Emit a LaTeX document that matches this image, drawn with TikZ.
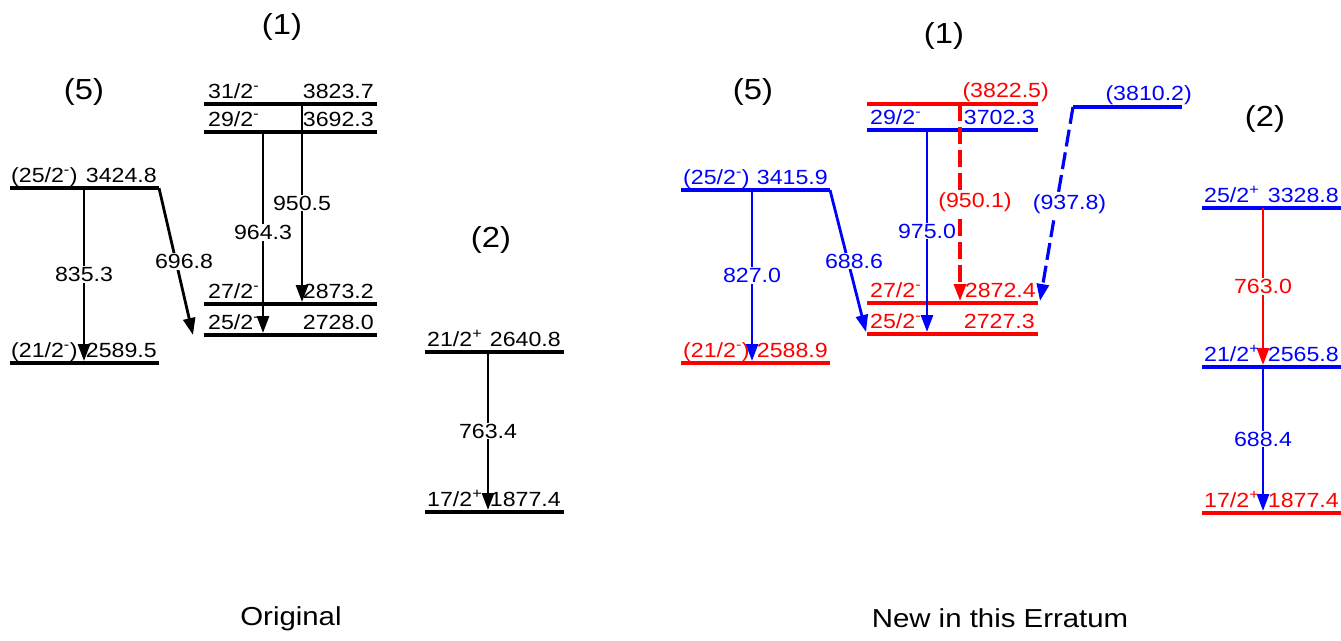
\documentclass[tikz,border=0pt]{standalone}
\usepackage{fontspec}
\setmainfont[FakeStretch=1.13]{Liberation Sans}
\usetikzlibrary{arrows.meta}

\begin{document}
\begin{tikzpicture}[x=1pt,y=1pt,yscale=-1,xscale=1,
  lev/.style={line width=3.8pt},
  gam/.style={line width=2.8pt,-{Triangle[length=17pt,width=12pt]}},
  gamd/.style={gam,line width=3.2pt,dash pattern={on 17pt off 6pt}},
  glab/.style={fill=white,inner sep=1pt,font=\fontsize{20.5}{22}\selectfont},
  txt/.style={inner sep=0pt,font=\fontsize{20.5}{22}\selectfont},
  spin/.style={txt,anchor=base west},
  ener/.style={txt,anchor=base east},
  ttl/.style={inner sep=0pt,font=\fontsize{29}{31}\selectfont},
  figcaption/.style={inner sep=0pt,anchor=base,font=\fontsize{26}{28}\selectfont},
  nb/.style={color={rgb,255:red,0;green,0;blue,255}},
  nr/.style={color={rgb,255:red,255;green,0;blue,0}}]
\useasboundingbox (0,0) rectangle (1341,640);

%%%%%%%%%%%%%%%% Original
%Levels band (1)
\draw [lev] (204,104) coordinate (o3823l) -- (377,104) coordinate (o3823r);
\draw [lev] (204,132) coordinate (o3692l) -- (377,132) coordinate (o3692r);
\draw [lev] (204,304) coordinate (o2873l) -- (377,304) coordinate (o2873r);
\draw [lev] (204,335) coordinate (o2728l) -- (377,335) coordinate (o2728r);
%Levels band (5)
\draw [lev] (10,188) coordinate (o3424l) -- (159,188) coordinate (o3424r);
\draw [lev] (10,363) coordinate (o2589l) -- (159,363) coordinate (o2589r);
%Levels band (2)
\draw [lev] (425,352) coordinate (o2640l) -- (564,352) coordinate (o2640r);
\draw [lev] (425,512) coordinate (o1877l) -- (564,512) coordinate (o1877r);

%Transitions
\coordinate (o964a) at (263,132); \coordinate (o964b) at (263,333);
\draw [gam] (o964a) -- node [glab] {964.3} (o964b);
\coordinate (o950a) at (302,104); \coordinate (o950b) at (302,302);
\draw [gam] (o950a) -- node [glab] {950.5} (o950b);
\coordinate (o835a) at (84,188); \coordinate (o835b) at (84,361);
\draw [gam] (o835a) -- node [glab] {835.3} (o835b);
\coordinate (o697b) at (193,335);
\draw [gam] (o3424r) -- node [glab,xshift=8] {696.8} (o697b);
\coordinate (o763a) at (488,352); \coordinate (o763b) at (488,510);
\draw [gam] (o763a) -- node [glab] {763.4} (o763b);

% Text Node
\node [spin] (o3823s) at (208,98) {31/2\textsuperscript{-}};
\node [ener] (o3823e) at (374,98) {3823.7};
\node [spin] (o3692s) at (208,126) {29/2\textsuperscript{-}};
\node [ener] (o3692e) at (374,126) {3692.3};
\node [spin] (o2873s) at (208,298) {27/2\textsuperscript{-}};
\node [ener] (o2873e) at (374,298) {2873.2};
\node [spin] (o2728s) at (208,329) {25/2\textsuperscript{-}};
\node [ener] (o2728e) at (374,329) {2728.0};
\node [spin] (o3424s) at (11,182) {(25/2\textsuperscript{-})};
\node [ener] (o3424e) at (157,182) {3424.8};
\node [spin] (o2589s) at (11,357) {(21/2\textsuperscript{-})};
\node [ener] (o2589e) at (157,357) {2589.5};
\node [spin] (o2640s) at (427,346) {21/2\textsuperscript{+}};
\node [ener] (o2640e) at (561,346) {2640.8};
\node [spin] (o1877s) at (427,506) {17/2\textsuperscript{+}};
\node [ener] (o1877e) at (561,506) {1877.4};
% Text Node
\node [ttl] (o1) at (282,27) {(1)};
\node [ttl] (o5) at (84,92) {(5)};
\node [ttl] (o2) at (491,240) {(2)};
\node [figcaption] (orig) at (291,625) {Original};

%%%%%%%%%%%%%%%% New in this Erratum
%Levels band (1)
\draw [lev,nr] (867,104) coordinate (n3822l) -- (1038,104) coordinate (n3822r);
\draw [lev,nb] (867,130) coordinate (n3702l) -- (1038,130) coordinate (n3702r);
\draw [lev,nr] (867,303) coordinate (n2872l) -- (1038,303) coordinate (n2872r);
\draw [lev,nr] (867,334) coordinate (n2727l) -- (1038,334) coordinate (n2727r);
\draw [lev,nb] (1073,107) coordinate (n3810l) -- (1182,107) coordinate (n3810r);
%Levels band (5)
\draw [lev,nb] (681,190) coordinate (n3415l) -- (830,190) coordinate (n3415r);
\draw [lev,nr] (681,363) coordinate (n2588l) -- (830,363) coordinate (n2588r);
%Levels band (2)
\draw [lev,nb] (1202,208) coordinate (n3328l) -- (1341,208) coordinate (n3328r);
\draw [lev,nb] (1202,367) coordinate (n2565l) -- (1341,367) coordinate (n2565r);
\draw [lev,nr] (1202,513) coordinate (n1877l) -- (1341,513) coordinate (n1877r);

%Transitions
\coordinate (n975a) at (927,130); \coordinate (n975b) at (927,332);
\draw [gam,nb] (n975a) -- node [glab] {975.0} (n975b);
\coordinate (n950a) at (960,104); \coordinate (n950b) at (960,301);
\draw [gamd,nr] (n950a) -- node [glab,xshift=15] {(950.1)} (n950b);
\coordinate (n938b) at (1040,301);
\draw [gamd,nb] (n3810l) -- node [glab,xshift=13] {(937.8)} (n938b);
\coordinate (n827a) at (752,190); \coordinate (n827b) at (752,361);
\draw [gam,nb] (n827a) -- node [glab] {827.0} (n827b);
\coordinate (n689b) at (866,332);
\draw [gam,nb] (n3415r) -- node [glab,xshift=6] {688.6} (n689b);
\coordinate (n763a) at (1263,208); \coordinate (n763b) at (1263,365);
\draw [gam,nr] (n763a) -- node [glab] {763.0} (n763b);
\coordinate (n688a) at (1263,367); \coordinate (n688b) at (1263,511);
\draw [gam,nb] (n688a) -- node [glab] {688.4} (n688b);

% Text Node
\node [ener,nr] (n3822e) at (1049,97) {(3822.5)};
\node [spin,nb] (n3702s) at (870,124) {29/2\textsuperscript{-}};
\node [ener,nb] (n3702e) at (1035,124) {3702.3};
\node [spin,nr] (n2872s) at (870,297) {27/2\textsuperscript{-}};
\node [ener,nr] (n2872e) at (1036,297) {2872.4};
\node [spin,nr] (n2727s) at (870,328) {25/2\textsuperscript{-}};
\node [ener,nr] (n2727e) at (1035,328) {2727.3};
\node [ener,nb] (n3810e) at (1192,100) {(3810.2)};
\node [spin,nb] (n3415s) at (683,184) {(25/2\textsuperscript{-})};
\node [ener,nb] (n3415e) at (828,184) {3415.9};
\node [spin,nr] (n2588s) at (683,357) {(21/2\textsuperscript{-})};
\node [ener,nr] (n2588e) at (828,357) {2588.9};
\node [spin,nb] (n3328s) at (1204,202) {25/2\textsuperscript{+}};
\node [ener,nb] (n3328e) at (1339,202) {3328.8};
\node [spin,nb] (n2565s) at (1204,361) {21/2\textsuperscript{+}};
\node [ener,nb] (n2565e) at (1339,361) {2565.8};
\node [spin,nr] (n1877s) at (1204,507) {17/2\textsuperscript{+}};
\node [ener,nr] (n1877e) at (1339,507) {1877.4};
% Text Node
\node [ttl] (n1) at (944,36) {(1)};
\node [ttl] (n5) at (753,92) {(5)};
\node [ttl] (n2) at (1265,119) {(2)};
\node [figcaption] (newe) at (1000,627) {New in this Erratum};

\end{tikzpicture}
\end{document}
